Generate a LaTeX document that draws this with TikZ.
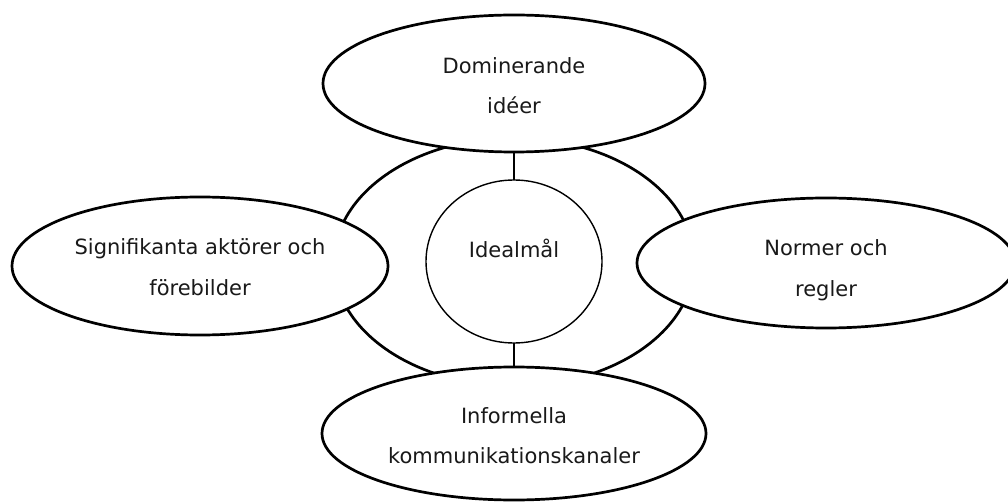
\documentclass[tikz,border=0pt]{standalone}
\usepackage{fontspec}
\setmainfont{DejaVu Sans}
\usetikzlibrary{shapes.geometric}
\newcommand{\twolines}[3]{\raisebox{#1}[0pt][0pt]{\begin{tabular}[t]{@{}c@{}}#2\\#3\end{tabular}}}
\tikzset{
  oval/.style={shape=ellipse, draw=black, fill=white, line width=2.7pt, inner sep=0pt, outer sep=0pt,
    font=\fontsize{21}{40}\selectfont, text=black!90},
  ring/.style={shape=ellipse, draw=black, line width=2.7pt, inner sep=0pt, outer sep=0pt},
  core/.style={shape=ellipse, draw=black, fill=white, line width=1.4pt, inner sep=0pt, outer sep=0pt,
    font=\fontsize{21}{40}\selectfont, text=black!90},
  link/.style={draw=black, line width=2.7pt}
}
\begin{document}
\begin{tikzpicture}[x=1pt,y=-1pt]
\clip (0,0) rectangle (1008,502);
\fill[white] (0,0) rectangle (1008,502);
\node[ring, minimum width=360pt, minimum height=248pt] (outer) at (514,262) {};
\node[core, minimum width=176pt, minimum height=163pt] (ideal) at (514,261.5) {\raisebox{3.5pt}[0pt][0pt]{Idealmål}};
\node[oval, minimum width=382pt, minimum height=137pt] (top) at (514,83.5) {\twolines{10.2pt}{Dominerande}{idéer}};
\node[oval, minimum width=384pt, minimum height=133pt] (bottom) at (514,433.5) {\twolines{10.2pt}{Informella}{kommunikationskanaler}};
\node[oval, minimum width=376pt, minimum height=138pt] (left) at (200,266) {\twolines{11pt}{Signifikanta aktörer och}{förebilder}};
\node[oval, minimum width=378pt, minimum height=130pt] (right) at (826,263) {\twolines{7pt}{Normer och}{regler}};
\draw[link] (top.south) -- (ideal.north);
\draw[link] (ideal.south) -- (bottom.north);
\end{tikzpicture}
\end{document}
